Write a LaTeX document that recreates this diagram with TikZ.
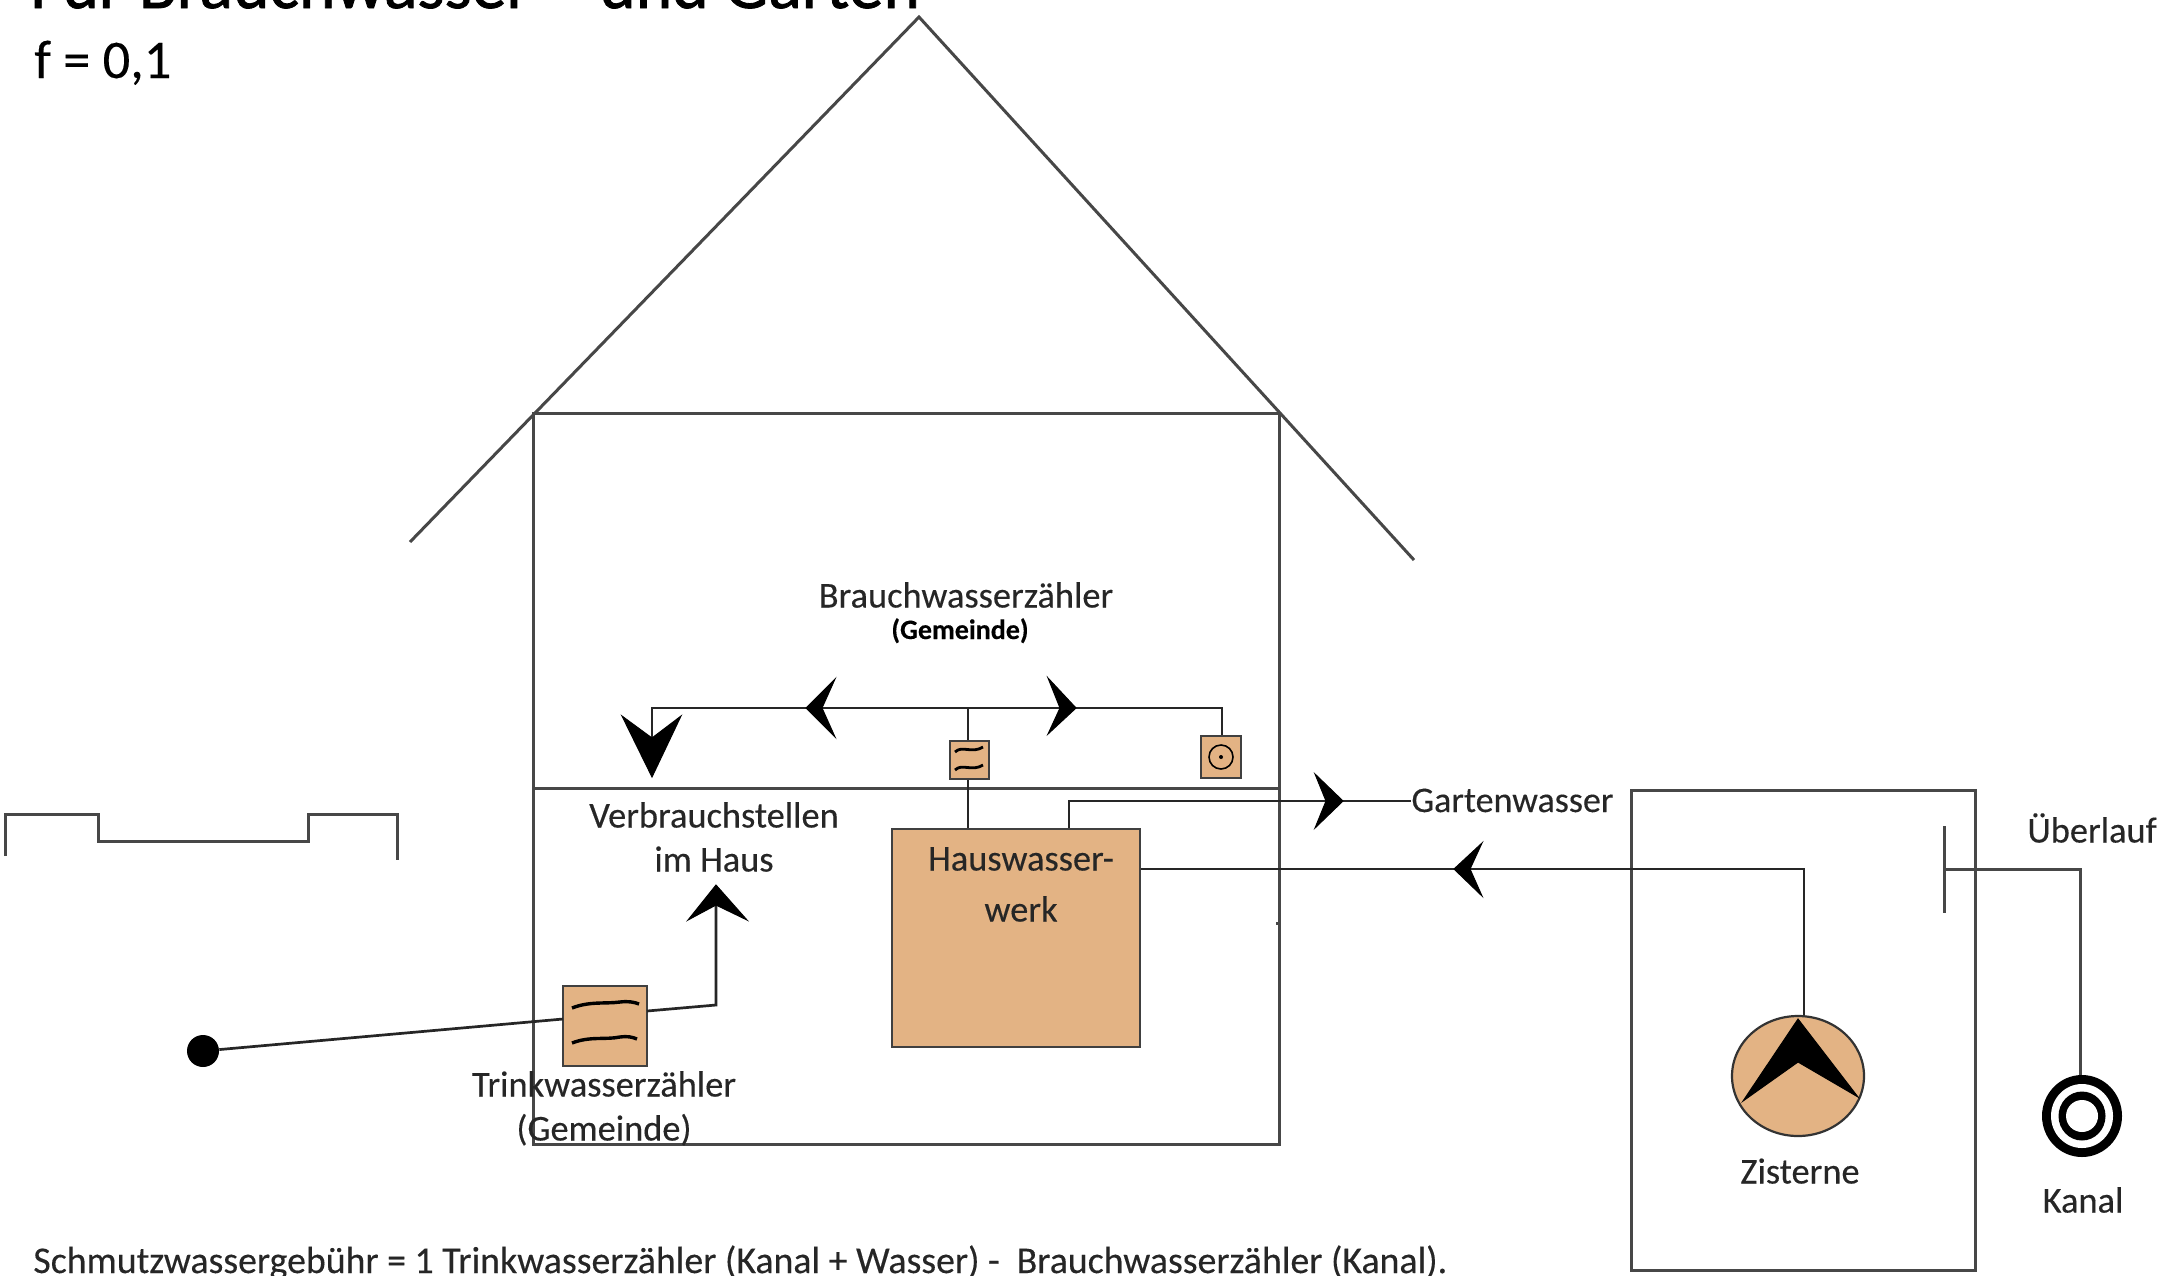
\documentclass[tikz,border=0pt]{standalone}
\usepackage{fontspec}
\usetikzlibrary{shapes.geometric}
\setmainfont[FakeBold=0.25]{Carlito}
\newfontfamily\titlefont[FakeBold=1.2]{Carlito}
\definecolor{tan1}{HTML}{E3B384}
\tikzset{
  x=0.5pt,y=-0.5pt,
  wall/.style={draw=black!72,line width=1.5pt},
  pipe/.style={draw=black!85,line width=1.35pt},
  counter/.style={draw=black!75,line width=1.3pt,fill=tan1,rectangle,inner sep=0pt},
  head/.style={fill=black,draw=black,line width=.5pt,line join=miter},
  lbl/.style={inner sep=0pt,anchor=base,font=\fontsize{18.2}{20}\selectfont,text=black!85},
  wavy/.style={draw=black,line width=1.7pt},
}
\begin{document}
\begin{tikzpicture}
\clip (0,0) rectangle (2162,1275);
\fill[white] (0,0) rectangle (2162,1275);
% title
\node[lbl,anchor=base west,font=\titlefont\fontsize{34.8}{38}\selectfont,text=black] (title) at (30,8) {Für Brauchwasser\ \ - und Garten};
\node[lbl,anchor=base west,font=\fontsize{27.2}{30}\selectfont,text=black] (ff) at (34,78) {f = 0,1};
% house
\draw[wall] (533,413) rectangle (1279,1144);
\draw[wall] (533,788) -- (1279,788);
\coordinate (apex) at (919,17);
\coordinate (roofL) at (410,542);
\coordinate (roofR) at (1414,560);
\draw[wall,line join=miter] (roofL) -- (apex) -- (roofR);
\draw[wall] (1277,922) -- (1277,925);
% ground step
\draw[wall] (5,856) -- (5,814) -- (98,814) -- (98,841) -- (308,841) -- (308,814) -- (397,814) -- (397,860);
% cistern
\draw[wall] (1631,790) rectangle (1975,1270);
% devices
\node[counter,minimum width=42pt,minimum height=40pt] (tw) at (605,1026) {};
\node[counter,minimum width=19.5pt,minimum height=19pt] (bw) at (969.5,760) {};
\node[counter,minimum width=20pt,minimum height=21pt] (gw) at (1221,757) {};
\node[counter,minimum width=124pt,minimum height=109pt] (hw) at (1016,938) {};
\node[draw=black!80,line width=1.1pt,fill=tan1,ellipse,inner sep=0pt,minimum width=66pt,minimum height=60pt] (pump) at (1798,1076) {};
\node[circle,fill=black,inner sep=0pt,minimum size=16pt] (dot) at (203,1051) {};
% Kanal
\node[draw=none,fill=black,ellipse,inner sep=0pt,minimum width=40pt,minimum height=41pt] (kanal) at (2082,1116) {};
\fill[white] (kanal.center) ellipse[x radius=31,y radius=32];
\fill[black] (kanal.center) ellipse[x radius=23.5,y radius=24.5];
\fill[white] (kanal.center) ellipse[x radius=16,y radius=16];
% counter marks
\draw[wavy] (572,1008) .. controls (590,1001) and (605,1004) .. (620,1002) .. controls (628,1001) and (634,1002) .. (639,1004);
\draw[wavy] (572,1043) .. controls (590,1036) and (605,1040) .. (620,1037) .. controls (628,1036) and (632,1037) .. (637,1039);
\draw[wavy,line width=1.4pt] (955,752) .. controls (962,745) and (972,754) .. (983,747);
\draw[wavy,line width=1.4pt] (955,770) .. controls (962,763) and (972,772) .. (983,765);
\draw[black,line width=.8pt] (1221,757) circle[radius=12];
\fill[black] (1221,757) circle[radius=2];
% supply
\coordinate (twin) at (563,1019);
\coordinate (twout) at (647,1011);
\coordinate (twbend) at (716,1005);
\coordinate (twup) at (716,903);
\draw[pipe] (dot) -- (twin);
\draw[pipe] (twout) -- (twbend) -- (twup);
\fill[head] (716,885) -- (747,920) -- (716,905) -- (688,920) -- cycle;
% service water line
\coordinate (bus) at (968,708);
\coordinate (busL) at (652,708);
\coordinate (busD) at (652,752);
\coordinate (busR) at (1222,708);
\draw[pipe] (hw.north -| bus) -- (bw.south -| bus);
\draw[pipe] (bw.north -| bus) -- (bus);
\draw[pipe] (busD) -- (busL) -- (busR) -- (gw.north -| busR);
\fill[head] (652,777) -- (622,716) -- (652,738) -- (681,716) -- cycle;
\fill[head] (806,708) -- (835,679) -- (822,708) -- (835,737) -- cycle;
\fill[head] (1076,708) -- (1048,678) -- (1060,708) -- (1048,734) -- cycle;
% garden
\coordinate (gbend) at (1069,801);
\coordinate (gend) at (1411,801);
\draw[pipe] (hw.north -| gbend) -- (gbend) -- (gend);
\fill[head] (1343,801) -- (1315,774) -- (1326,801) -- (1315,828) -- cycle;
% cistern feed
\coordinate (cbend) at (1804,869);
\draw[pipe] (hw.east |- cbend) -- (cbend) -- (pump.north -| cbend);
\fill[head] (1454,869) -- (1482,843) -- (1470,869) -- (1482,896) -- cycle;
\fill[head] (1798,1019) -- (1858,1097) -- (1798,1062) -- (1743,1101) -- cycle;
% overflow
\coordinate (ovT) at (1944,826);
\coordinate (ovB) at (1944,913);
\coordinate (ovM) at (1944,869);
\coordinate (ovbend) at (2080,869);
\draw[wall] (ovT) -- (ovB);
\draw[wall] (ovM) -- (ovbend) -- (kanal.north -| ovbend);
% labels
\node[lbl] (l1) at (966,607.5) {Brauchwasserzähler};
\node[lbl,font=\bfseries\fontsize{14}{16}\selectfont,text=black] (l2) at (960,639) {(Gemeinde)};
\node[lbl] (l3) at (714,827.5) {Verbrauchstellen};
\node[lbl] (l4) at (714,871.5) {im Haus};
\node[lbl] (l5) at (1021,870.5) {Hauswasser-};
\node[lbl] (l6) at (1021,921.5) {werk};
\node[lbl] (l7) at (604,1096.5) {Trinkwasserzähler};
\node[lbl] (l8) at (604,1140.5) {(Gemeinde)};
\node[lbl,anchor=base west,font=\fontsize{18}{20}\selectfont] (l9) at (1411,812) {Gartenwasser};
\node[lbl,anchor=base west] (l10) at (2027,842.5) {Überlauf};
\node[lbl] (l11) at (1800,1183.5) {Zisterne};
\node[lbl] (l12) at (2083,1212.5) {Kanal};
\node[lbl,anchor=base west,font=\fontsize{18.9}{22}\selectfont] (l13) at (33,1273) {Schmutzwassergebühr = 1 Trinkwasserzähler (Kanal + Wasser) -\ \ Brauchwasserzähler (Kanal).};
\end{tikzpicture}
\end{document}
